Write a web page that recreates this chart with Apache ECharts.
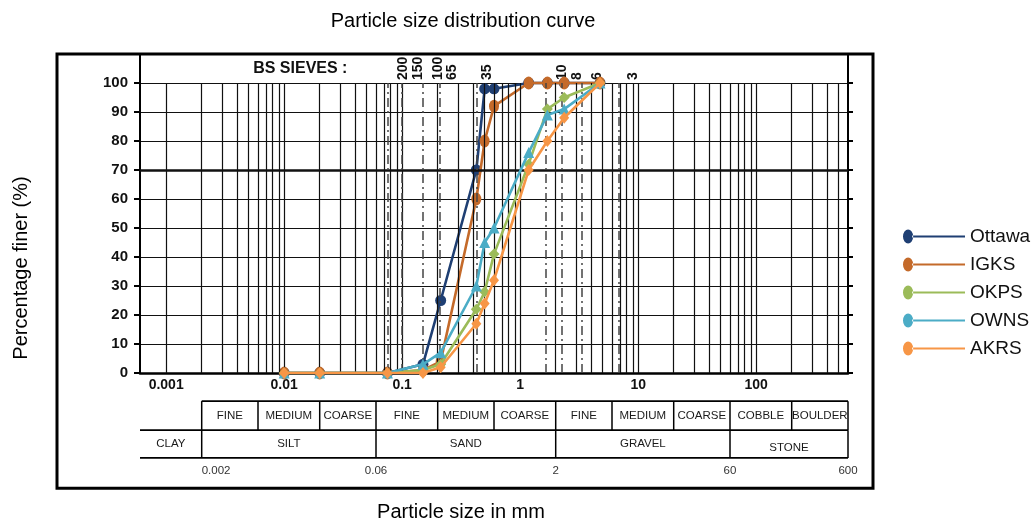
<!DOCTYPE html>
<html><head><meta charset="utf-8">
<script src="https://cdn.jsdelivr.net/npm/echarts@6/dist/echarts.min.js"></script>
<style>html,body{margin:0;padding:0;background:#fff}#c{width:1033px;height:525px}</style>
</head><body><div id="c"></div>
<script>
// ---- data ----
const sizesMm = [0.01, 0.02, 0.075, 0.15, 0.212, 0.425, 0.5, 0.6, 1.18, 1.7, 2.36, 4.75];
const seriesNames = ['Ottawa', 'IGKS', 'OKPS', 'OWNS', 'AKRS'];
const ottawa = [0, 0, 0, 3, 25, 70, 98, 98, 100, 100, 100, 100];
const igks   = [0, 0, 0, 1, 4, 60, 80, 92, 100, 100, 100, 100];
const okps   = [0, 0, 0, 1, 3, 22, 28, 41, 72, 91, 95, 100];
const owns   = [0, 0, 0, 3, 7, 30, 45, 50, 76, 89, 91, 100];
const akrs   = [0, 0, 0, 0, 2, 17, 24, 32, 70, 80, 88, 100];

const gridLineMm = [0.001,0.002,0.003,0.004,0.005,0.006,0.007,0.008,0.009,
  0.01,0.02,0.03,0.04,0.05,0.06,0.07,0.08,0.09,
  0.1,0.2,0.3,0.4,0.5,0.6,0.7,0.8,0.9,
  1,2,3,4,5,6,7,8,9,
  10,20,30,40,50,60,70,80,90,
  100,200,300,400,500];
const sieveLineMm = [0.075, 0.1, 0.15, 0.21, 0.425, 1.65, 2.25, 3.3, 6.8];
const sieveLabels = ['200', '150', '100', '65', '35', '10', '8', '6', '3'];
const sieveLabelMm = [0.102, 0.137, 0.202, 0.265, 0.525, 2.27, 3.04, 4.49, 9.07];

const row1Labels = ['FINE','MEDIUM','COARSE','FINE','MEDIUM','COARSE','FINE','MEDIUM','COARSE','COBBLE','BOULDER'];
const row1Bounds = [0.002,0.006,0.02,0.06,0.2,0.6,2,6,20,60,200,600];
const row2Labels = ['CLAY','SILT','SAND','GRAVEL','STONE'];
const row2Bounds = [0.0006,0.002,0.06,2,60,600];
const boundaryLabels = ['0.002','0.06','2','60','600'];
const boundaryMm = [0.002,0.06,2,60,600];

const colors = ['#1F3F73', '#C46A2A', '#9BBB59', '#4BACC6', '#F79646'];
const symbols = ['circle', 'circle', 'diamond', 'triangle', 'diamond'];
const symbolSizes = [11, [10, 13], 11, 11, [10, 12]];
const allValues = [ottawa, igks, okps, owns, akrs];

// ---- chart ----
const FONT = '"Liberation Sans", Arial, sans-serif';
const NARROW = '"Liberation Sans Narrow", "Liberation Sans", Arial, sans-serif';
const chart = echarts.init(document.getElementById('c'), null, {renderer: 'canvas'});
const iconPath = 'path://M1,8 A5,7 0 1,0 11,8 A5,7 0 1,0 1,8 Z M10,7 L62,7 L62,9 L10,9 Z';

const dataSeries = seriesNames.map((n, k) => ({
  name: n, type: 'line', z: 3 + k,
  data: sizesMm.map((s, i) => [s, allValues[k][i]]),
  symbol: symbols[k], symbolSize: symbolSizes[k], showAllSymbol: true,
  itemStyle: {color: colors[k]},
  lineStyle: {color: colors[k], width: 2.6}
}));

const gridSeries = {
  name: '_grid', type: 'line', data: [], z: 1, silent: true,
  markLine: {
    silent: true, symbol: ['none', 'none'], label: {show: false}, animation: false,
    lineStyle: {color: '#111', width: 1.2, type: 'solid'},
    data: gridLineMm.map(v => [{coord: [v, 0]}, {coord: [v, 100]}])
      .concat([[{coord: [0.0006, 70]}, {coord: [600, 70], lineStyle: {width: 2.6}}]])
  }
};
const sieveSeries = {
  name: '_sieve', type: 'line', data: [], z: 2, silent: true,
  markLine: {
    silent: true, symbol: ['none', 'none'], label: {show: false}, animation: false,
    lineStyle: {color: '#444', width: 1.5, type: [9, 4, 2, 4]},
    data: sieveLineMm.map(v => [{coord: [v, 0]}, {coord: [v, 100]}])
  }
};

function decLabel(v) {
  const l = Math.log10(v), e = Math.round(l);
  if (Math.abs(l - e) > 1e-6) return '';
  return e < 0 ? Math.pow(10, e).toFixed(-e) : String(Math.pow(10, e));
}

chart.setOption({
  animation: false,
  backgroundColor: '#fff',
  grid: {left: 140, right: 185, top: 54, bottom: 152},
  legend: {
    orient: 'vertical', left: 898, top: 222, itemWidth: 62, itemHeight: 16, itemGap: 9,
    textStyle: {fontSize: 19, color: '#111', fontFamily: FONT},
    data: seriesNames.map(n => ({name: n, icon: iconPath}))
  },
  xAxis: {
    type: 'log', logBase: 10, min: 0.0006, max: 600, splitNumber: 6,
    axisLine: {show: true, lineStyle: {color: '#000', width: 2.6}},
    axisTick: {show: false}, splitLine: {show: false}, minorSplitLine: {show: false},
    axisLabel: {formatter: decLabel, fontSize: 14, fontWeight: 'bold', color: '#111',
      margin: 5, fontFamily: NARROW, showMinLabel: false, showMaxLabel: false}
  },
  yAxis: [{
    type: 'value', min: 0, max: 110, interval: 10, position: 'left',
    axisLine: {show: true, lineStyle: {color: '#000', width: 2}},
    axisTick: {show: true, inside: false, length: 6, lineStyle: {color: '#000', width: 2}},
    splitLine: {show: true, lineStyle: {color: '#111', width: 1.2}},
    axisLabel: {formatter: v => (v > 100 ? '' : String(v)), fontSize: 15, fontWeight: 'bold',
      color: '#111', margin: 12, fontFamily: NARROW}
  }, {
    type: 'value', min: 0, max: 110, interval: 10, position: 'right',
    axisLine: {show: true, lineStyle: {color: '#000', width: 2}},
    axisTick: {show: true, inside: false, length: 5, lineStyle: {color: '#000', width: 2}},
    splitLine: {show: false}, axisLabel: {show: false}
  }],
  series: [gridSeries, sieveSeries].concat(dataSeries)
});

// ---- decoration placed through the chart's own scales ----
const P = (x, y) => chart.convertToPixel({gridIndex: 0}, [x, y]);
const xp = v => P(v, 50)[0];
const yp = v => P(1, v)[1];
const g = [];
const x0 = xp(0.0006), x1 = xp(600);
const yTop = yp(110), yBot = yp(-39.7);
const yR1 = yp(-9.7), yR2 = yp(-19.7), yR3 = yp(-29.3);
const lineEl = (ax, ay, bx, by, w) => ({type: 'line', silent: true,
  shape: {x1: ax, y1: ay, x2: bx, y2: by}, style: {stroke: '#000', lineWidth: w || 1.5}});
const textEl = (t, x, y, o) => ({type: 'text', silent: true, x: x, y: y,
  style: Object.assign({text: t, fill: '#1a1a1a', font: '11.5px ' + NARROW, textAlign: 'center', textVerticalAlign: 'middle'}, o || {})});

// outer frame
g.push({type: 'rect', silent: true, shape: {x: x0 - 83, y: yTop, width: (x1 + 25) - (x0 - 83), height: yBot - yTop},
  style: {fill: 'none', stroke: '#000', lineWidth: 3}});
// titles
g.push(textEl('Particle size distribution curve', (x0 + x1) / 2 - 31, 21, {font: '20px ' + FONT, fill: '#000'}));
g.push(textEl('Particle size in mm', (x0 + x1) / 2 - 33, 512, {font: '20px ' + FONT, fill: '#000'}));
g.push(Object.assign(textEl('Percentage finer (%)', 21, 268, {font: '20px ' + FONT, fill: '#000'}), {rotation: Math.PI / 2}));
// header band
g.push(textEl('BS SIEVES :', xp(0.0137), yp(105), {font: 'bold 16px ' + NARROW, fill: '#111'}));
sieveLabels.forEach((t, i) => {
  g.push(Object.assign(textEl(t, xp(sieveLabelMm[i]), yp(100) - 3,
    {font: 'bold 14px ' + FONT, fill: '#111', textAlign: 'left'}), {rotation: Math.PI / 2}));
});
// classification table
g.push(lineEl(xp(row1Bounds[0]), yR1, x1, yR1, 1.8));
g.push(lineEl(x0, yR2, x1, yR2, 1.8));
g.push(lineEl(x0, yR3, x1, yR3, 1.8));
row1Bounds.forEach(b => g.push(lineEl(xp(b), yR1, xp(b), yR2, 1.5)));
row2Bounds.slice(1).forEach(b => g.push(lineEl(xp(b), yR2, xp(b), yR3, 1.5)));
row1Labels.forEach((t, i) => g.push(textEl(t, (xp(row1Bounds[i]) + xp(row1Bounds[i + 1])) / 2, (yR1 + yR2) / 2)));
row2Labels.forEach((t, i) => g.push(textEl(t, (xp(row2Bounds[i]) + xp(row2Bounds[i + 1])) / 2, (yR2 + yR3) / 2 + (t === 'STONE' ? 4 : 0))));
boundaryLabels.forEach((t, i) => g.push(textEl(t, xp(boundaryMm[i]), yR3 + 13,
  {font: '11.5px ' + FONT, fill: '#333', textAlign: i === 0 ? 'left' : 'center'})));

chart.setOption({graphic: g});
</script></body></html>
